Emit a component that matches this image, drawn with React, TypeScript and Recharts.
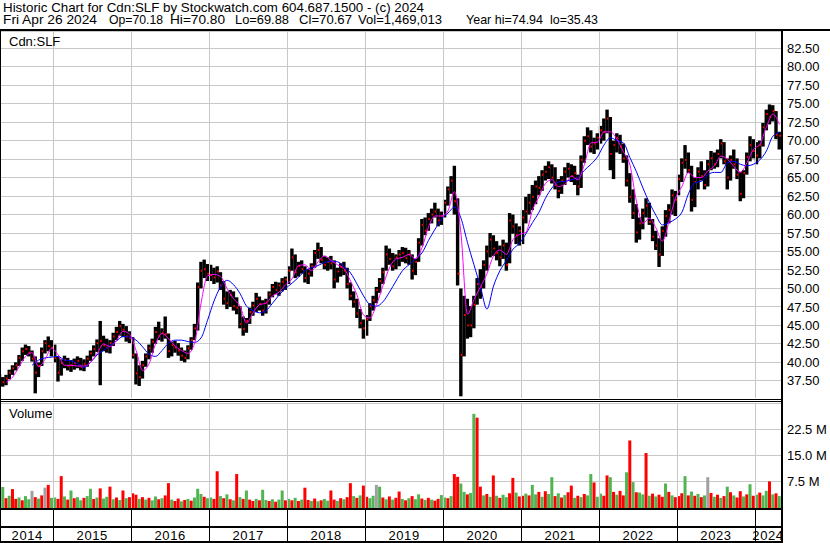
import React from 'react';
import { ComposedChart, Bar, Line, XAxis, YAxis, CartesianGrid, ReferenceLine, Cell } from 'recharts';

const FONT = '"Liberation Sans", Arial, sans-serif';
const GRID = '#c8c8c8';

// half-month slots: 2014 starts with the second half of April, 2024 ends with April
const YEARS = ['2014', '2015', '2016', '2017', '2018', '2019', '2020', '2021', '2022', '2023', '2024'];
const SLOTS_PER_YEAR = [17, 24, 24, 24, 24, 24, 24, 24, 24, 24, 8];

const HIGH = [
  38.4, 38.0, 38.3, 39.0, 39.6, 40.0, 41.0, 42.0, 42.4, 42.2, 41.6, 40.8, 40.0, 42.0, 43.0, 43.5, 43.0,
  42.4, 40.8, 40.4, 40.9, 40.6, 40.3, 40.5, 40.8, 40.6, 40.4, 40.9, 41.6, 42.3, 43.1, 45.6, 43.6, 43.2, 43.0, 44.0, 44.8, 45.6, 45.2, 44.9, 44.2,
  43.4, 41.2, 39.6, 40.2, 41.2, 42.4, 43.2, 44.8, 45.5, 44.6, 46.2, 43.9, 42.8, 42.9, 42.6, 42.0, 41.6, 42.3, 43.4, 45.2, 50.8, 53.6, 53.9, 53.3,
  53.2, 52.8, 53.0, 52.2, 51.0, 49.6, 49.8, 49.6, 48.8, 47.6, 46.2, 46.0, 47.4, 48.2, 49.4, 48.9, 48.4, 48.6, 49.6, 50.6, 50.9, 50.8, 51.4, 51.6,
  53.0, 55.4, 54.6, 53.6, 53.8, 53.0, 52.6, 53.4, 55.2, 56.2, 55.6, 54.4, 54.2, 54.4, 53.8, 52.8, 53.4, 53.6, 52.8, 50.8, 49.6, 48.6, 47.2, 45.8,
  46.4, 48.0, 49.0, 50.2, 51.4, 52.8, 55.8, 55.4, 54.8, 54.6, 55.2, 55.6, 55.5, 55.2, 54.6, 54.0, 56.8, 59.4, 59.6, 60.2, 60.8, 61.6, 60.8, 60.4,
  62.0, 63.8, 65.2, 66.6, 62.2, 50.0, 49.0, 48.6, 47.6, 49.0, 51.4, 52.6, 53.8, 55.8, 57.5, 57.2, 56.4, 55.8, 56.6, 56.2, 60.2, 60.0, 58.8, 58.4,
  60.6, 62.4, 62.8, 64.0, 64.6, 65.2, 66.0, 66.6, 67.2, 66.8, 66.4, 64.8, 65.2, 66.4, 67.0, 66.8, 66.6, 65.4, 68.0, 70.6, 71.8, 71.4, 70.4, 71.0,
  72.0, 73.0, 74.2, 73.2, 70.0, 71.0, 70.8, 69.6, 68.0, 65.6, 63.4, 61.4, 59.6, 60.8, 62.2, 61.6, 59.4, 57.8, 56.8, 58.4, 60.6, 61.4, 63.4, 63.2,
  65.4, 67.6, 69.4, 68.4, 66.6, 65.0, 66.4, 67.2, 66.0, 67.4, 68.6, 68.4, 68.8, 70.2, 69.8, 67.6, 68.0, 68.8, 67.6, 65.8, 66.0, 68.4, 70.6, 70.2,
  69.8, 70.0, 72.4, 74.2, 74.9, 74.8, 74.0, 71.2,
];

const LOW = [
  36.8, 36.7, 36.9, 37.7, 38.3, 38.9, 39.5, 40.2, 41.0, 40.8, 40.1, 35.8, 38.0, 39.5, 41.2, 41.5, 40.8,
  40.0, 37.4, 38.2, 39.2, 38.9, 38.7, 39.0, 39.2, 38.9, 38.8, 39.4, 40.2, 40.8, 41.4, 36.9, 41.5, 41.3, 41.2, 42.2, 43.0, 43.6, 43.4, 42.8, 42.6,
  40.5, 37.0, 36.8, 37.8, 39.4, 40.4, 41.3, 42.5, 43.0, 42.8, 43.2, 40.6, 40.8, 41.3, 40.9, 40.2, 40.0, 40.4, 41.7, 43.0, 44.3, 50.0, 51.4, 51.0,
  51.0, 50.6, 50.8, 49.8, 47.8, 47.2, 47.5, 47.0, 46.5, 44.6, 43.6, 44.0, 45.2, 46.3, 46.8, 47.0, 46.3, 46.6, 47.8, 48.8, 49.2, 49.0, 49.6, 49.8,
  50.6, 52.4, 51.4, 51.6, 52.0, 50.8, 50.6, 51.6, 52.8, 54.0, 53.4, 52.6, 52.4, 52.6, 50.0, 50.8, 51.6, 51.8, 50.0, 48.4, 47.4, 46.0, 44.6, 43.2,
  43.6, 45.6, 47.0, 48.0, 49.4, 50.6, 52.4, 53.2, 52.4, 52.6, 53.0, 53.6, 53.4, 53.2, 51.2, 51.8, 53.6, 55.8, 57.2, 57.8, 58.8, 59.6, 58.4, 58.6,
  59.6, 61.2, 62.8, 60.0, 50.4, 35.4, 40.8, 43.2, 43.4, 44.6, 47.8, 48.6, 50.0, 52.4, 54.2, 54.4, 53.8, 53.0, 54.0, 52.4, 53.4, 57.4, 56.0, 55.8,
  56.0, 58.8, 60.0, 60.6, 61.4, 62.6, 63.2, 64.6, 64.8, 64.2, 63.4, 62.2, 62.8, 64.0, 65.0, 64.4, 64.0, 62.6, 63.6, 67.0, 69.4, 68.4, 68.2, 68.8,
  69.6, 70.0, 71.0, 66.0, 64.8, 68.4, 68.2, 67.0, 63.8, 61.6, 59.4, 56.2, 56.6, 58.0, 59.6, 58.6, 56.4, 55.2, 52.9, 54.4, 57.0, 58.8, 60.0, 59.8,
  62.6, 64.4, 66.2, 65.6, 60.4, 61.0, 63.4, 64.6, 63.4, 63.8, 66.0, 66.2, 66.4, 67.6, 66.8, 63.4, 64.6, 66.2, 64.8, 61.8, 62.2, 65.4, 67.2, 67.6,
  66.8, 67.6, 69.2, 71.4, 72.2, 72.6, 70.2, 68.8,
];

const CLOSE = [
  37.5, 37.3, 37.8, 38.6, 39.2, 39.6, 40.6, 41.5, 41.8, 41.3, 40.5, 38.6, 39.5, 41.5, 42.6, 42.2, 42.0,
  40.6, 38.6, 39.9, 40.3, 39.5, 39.6, 39.9, 40.2, 39.4, 39.8, 40.5, 41.2, 41.8, 42.6, 42.9, 42.3, 42.0, 42.6, 43.5, 44.1, 44.9, 44.4, 43.5, 43.3,
  41.0, 38.5, 38.0, 39.6, 40.8, 41.9, 42.8, 44.1, 43.6, 44.0, 43.8, 41.5, 42.3, 42.0, 41.6, 40.9, 40.6, 41.9, 43.0, 44.6, 50.2, 52.4, 52.6, 52.0,
  51.8, 51.5, 52.3, 50.4, 48.6, 48.0, 49.1, 47.6, 47.4, 45.2, 44.5, 45.6, 46.8, 47.7, 48.6, 47.9, 47.0, 48.1, 49.2, 50.2, 49.8, 50.4, 50.9, 51.2,
  52.4, 54.2, 52.2, 53.0, 52.6, 51.4, 52.0, 53.0, 54.8, 55.2, 53.9, 53.2, 53.6, 53.4, 51.2, 52.3, 52.9, 52.4, 50.6, 49.0, 48.2, 46.6, 45.3, 44.6,
  45.8, 47.6, 48.4, 49.8, 51.0, 52.2, 54.6, 54.0, 53.0, 54.2, 54.6, 54.8, 54.1, 54.6, 52.4, 53.6, 56.2, 58.6, 57.8, 59.4, 60.0, 60.4, 59.2, 59.8,
  61.6, 63.4, 64.6, 61.8, 52.0, 41.0, 46.4, 45.0, 45.0, 47.8, 50.6, 50.2, 53.2, 55.0, 56.6, 55.4, 54.8, 54.2, 55.8, 53.2, 59.2, 58.4, 57.2, 57.8,
  59.6, 60.4, 61.6, 62.4, 63.8, 63.6, 65.4, 65.8, 66.4, 65.0, 64.0, 63.2, 64.6, 65.8, 66.2, 65.2, 65.6, 63.8, 67.4, 70.0, 70.6, 69.2, 69.6, 70.4,
  71.4, 71.2, 73.0, 68.2, 69.4, 70.4, 69.2, 67.6, 64.6, 62.4, 60.2, 57.6, 58.8, 60.2, 61.2, 59.0, 57.0, 55.8, 54.6, 57.8, 59.8, 60.6, 62.6, 62.0,
  64.8, 67.0, 67.4, 66.0, 62.0, 64.4, 65.8, 65.2, 64.0, 66.8, 67.6, 66.8, 68.2, 69.6, 67.2, 65.0, 67.4, 66.8, 65.4, 62.8, 65.6, 67.8, 69.4, 68.6,
  68.0, 69.4, 71.8, 73.6, 73.2, 74.0, 70.8, 70.67,
];

// volume in millions of shares
const VOLUME = [
  3.2, 6.0, 2.8, 3.5, 5.4, 2.6, 3.0, 2.2, 3.4, 2.5, 4.9, 3.1, 2.7, 3.6, 5.8, 6.6, 2.9,
  3.0, 2.6, 9.1, 3.3, 2.4, 5.0, 2.8, 3.1, 2.2, 2.9, 3.4, 5.5, 2.6, 3.0, 5.6, 2.7, 3.2, 6.1, 2.5, 3.0, 2.3, 5.0, 2.8, 3.1,
  4.2, 3.8, 2.6, 3.1, 2.4, 2.9, 2.2, 3.3, 2.5, 2.8, 3.6, 7.1, 2.4, 2.0, 2.7, 1.9, 2.3, 2.6, 2.1, 3.0, 5.5, 4.0, 3.2, 2.8,
  3.0, 2.6, 10.5, 3.4, 2.8, 3.9, 2.5, 2.2, 9.7, 3.1, 2.6, 5.0, 2.4, 2.0, 2.6, 2.2, 5.2, 2.3, 2.0, 2.5, 1.8, 2.4, 5.0, 2.2,
  2.6, 2.2, 2.9, 2.0, 2.4, 5.8, 2.3, 2.0, 2.7, 1.9, 2.2, 2.6, 2.1, 5.0, 2.4, 2.0, 2.8, 2.5, 3.1, 7.1, 3.4, 2.9, 3.6, 6.4,
  3.2, 2.8, 3.5, 6.6, 6.1, 3.0, 2.5, 3.3, 2.4, 2.9, 4.7, 2.6, 2.2, 2.8, 3.4, 2.5, 3.9, 2.7, 2.3, 2.9, 2.4, 2.1, 2.6, 3.7,
  3.0, 2.8, 3.4, 9.7, 8.9, 7.0, 4.6, 3.9, 4.3, 26.9, 25.8, 6.1, 3.6, 4.0, 3.2, 9.3, 3.5, 2.9, 3.8, 3.1, 4.2, 8.6, 4.4, 3.3,
  3.5, 4.1, 3.6, 6.6, 3.9, 4.6, 3.2, 4.8, 4.0, 8.8, 3.4, 4.2, 3.0, 3.7, 4.5, 6.4, 2.9, 3.5, 3.1, 4.0, 3.6, 9.7, 7.3, 3.2,
  4.1, 3.5, 9.3, 8.8, 4.6, 3.8, 4.9, 3.6, 10.2, 19.3, 7.4, 4.5, 4.4, 3.9, 15.7, 3.5, 4.1, 3.3, 3.8, 3.2, 7.0, 4.6, 3.6, 3.1,
  3.4, 4.2, 9.1, 3.6, 4.7, 3.5, 4.0, 3.1, 3.6, 8.8, 4.3, 3.2, 3.8, 2.9, 3.4, 6.1, 4.5, 3.6, 3.0, 4.8, 3.3, 3.9, 6.8, 3.5,
  3.8, 4.4, 3.6, 4.9, 7.6, 3.9, 4.2, 3.4,
];

// g = up, r = down, n = unchanged
const VOL_DIR =
  'ggrgrrgrggnrgrnrg' +
  'grrgrgrggrggrgrggrgrgrgr' +
  'rrgrgrggrgrrgrrgrgrgggrg' +
  'grrgrgrgrgrgrrgrggrgrggr' +
  'grgrgrrgrgrggrrgrgrrgrgr' +
  'rggngrgrgrrgrgrggrgrgrrg' +
  'grgrrggrggrrgrgrgrggrrgr' +
  'rgrggrgrggrgrgrrgrgrggrg' +
  'grrgrgrrgrgrggrgrgrrgrgr' +
  'rrgrgrgrgnrgrgrgrgrrgrgr' +
  'grggrgrg';

// monthly moving averages, Apr 2014 .. Apr 2024
const MA_FAST = [
  null, 37.3, 38.0, 39.4, 40.8, 41.3, 39.4, 40.4, 41.9,
  41.0, 39.6, 39.6, 39.5, 39.5, 40.0, 41.2, 42.5, 42.1, 43.0, 44.2, 43.8,
  41.6, 38.9, 39.8, 42.5, 43.9, 43.2, 42.2, 41.6, 41.2, 42.6, 48.0, 51.7,
  51.9, 51.6, 50.0, 48.6, 47.6, 45.3, 46.7, 47.8, 48.0, 49.0, 49.5, 50.5,
  51.3, 53.1, 53.2, 52.4, 53.6, 54.4, 53.8, 53.2, 52.7, 51.0, 49.1, 46.4,
  46.0, 47.8, 50.4, 52.8, 54.0, 54.2, 54.6, 54.0, 55.5, 58.3, 59.8, 59.8,
  60.5, 63.1, 57.4, 46.5, 48.5, 50.2, 52.0, 54.4, 55.2, 54.6, 56.6, 57.3,
  57.6, 60.6, 62.4, 64.2, 64.7, 63.8, 64.1, 65.2, 64.7, 66.8, 69.7, 69.8,
  71.2, 71.2, 70.2, 68.5, 66.7, 61.8, 58.8, 59.5, 58.2, 56.4, 59.0, 62.2,
  63.8, 65.7, 65.0, 65.0, 65.9, 66.6, 67.9, 67.5, 66.5, 65.7, 67.0, 68.8,
  69.5, 71.8, 73.6, 72.2,
];

const MA_SLOW = [
  null, null, null, null, null, 39.6, 40.3, 40.6, 40.7,
  40.8, 40.3, 40.2, 39.8, 39.3, 40.0, 41.0, 41.6, 42.3, 42.9, 43.5, 43.4,
  43.0, 42.1, 41.1, 40.8, 41.6, 42.6, 43.0, 43.0, 42.8, 42.7, 43.3, 45.7,
  48.3, 50.2, 51.1, 50.5, 49.3, 47.6, 47.0, 46.7, 47.0, 48.0, 49.1, 50.0,
  50.7, 51.5, 52.4, 52.8, 53.1, 53.5, 53.7, 53.6, 53.0, 52.1, 50.6, 49.0,
  47.8, 47.6, 48.2, 49.5, 51.0, 52.4, 53.2, 54.0, 54.8, 56.5, 58.0, 59.4,
  60.2, 61.0, 59.5, 56.2, 53.2, 50.2, 47.2, 50.3, 52.4, 53.8, 55.3, 56.1,
  57.4, 58.9, 60.3, 62.2, 63.6, 64.4, 64.5, 64.7, 65.0, 66.0, 66.8, 67.8,
  69.4, 70.4, 70.0, 69.7, 67.7, 65.8, 63.6, 61.6, 59.9, 58.6, 58.9, 59.4,
  60.3, 62.8, 64.3, 64.5, 65.4, 65.7, 65.7, 67.0, 67.2, 66.8, 66.6, 66.8,
  67.4, 68.6, 70.6, 71.1,
];

const PRICE_TICKS = [37.5, 40, 42.5, 45, 47.5, 50, 52.5, 55, 57.5, 60, 62.5, 65, 67.5, 70, 72.5, 75, 77.5, 80, 82.5];
const VOL_TICKS = [7.5, 15, 22.5];

const HEADER_1 = 'Historic Chart for Cdn:SLF by Stockwatch.com 604.687.1500 - (c) 2024';
const HEADER_2 = ['Fri Apr 26 2024', 'Op=70.18', 'Hi=70.80', 'Lo=69.88', 'Cl=70.67', 'Vol=1,469,013', 'Year hi=74.94', 'lo=35.43'];
const HEADER_2_X = [3, 109, 170, 235, 299, 358, 466, 550];
const HEADER_2_W = [94, 54, 55, 54, 53, 84, 77, 48];

// build slot rows
const rows: any[] = [];
const yearStartKeys: string[] = [];
const labelKeys: Record<string, string> = {};
let g = 0;
YEARS.forEach((yr, yi) => {
  const n = SLOTS_PER_YEAR[yi];
  for (let j = 0; j < n; j++, g++) {
    const key = `${yr}-${j}`;
    if (j === 0 && yi > 0) yearStartKeys.push(key);
    if (j === Math.ceil(n / 2)) labelKeys[key] = yr;
    rows.push({
      key,
      hi: HIGH[g],
      lo: LOW[g],
      cl: CLOSE[g],
      range: [LOW[g], HIGH[g]],
      vol: VOLUME[g],
      dir: VOL_DIR[g],
      fast: g % 2 === 0 ? MA_FAST[g / 2] : null,
      slow: g % 2 === 0 ? MA_SLOW[g / 2] : null,
    });
  }
});
const axisTicks = [...yearStartKeys, ...Object.keys(labelKeys)];

const volColor = (d: string) => (d === 'g' ? '#50b450' : d === 'r' ? '#ff0000' : '#a0a0a0');

function PriceBar(props: any) {
  const { x, y, width, height, payload } = props;
  if (!payload || !Number.isFinite(y)) return null;
  const h = Math.max(height, 1);
  const span = payload.hi - payload.lo;
  const yc = y + (span > 0 ? ((payload.hi - payload.cl) / span) * h : 0);
  return (
    <g>
      <rect x={x - 0.2} y={y} width={width + 0.4} height={h} fill="#000" />
      <rect x={x + width - 1.6} y={yc - 1} width={2} height={2} fill="#ff0000" />
    </g>
  );
}

function YearTick(props: any) {
  const { x, y, payload } = props;
  const left = x - (payload.offset || 0);
  if (yearStartKeys.includes(payload.value)) {
    const lx = Math.round(left) + 0.5;
    return <line x1={lx} x2={lx} y1={y + 2} y2={y + 35} stroke="#000" strokeWidth={1} />;
  }
  return (
    <text x={left} y={y + 32} textAnchor="middle" fontSize={13} fontFamily={FONT} fill="#000" letterSpacing={0.6}>
      {labelKeys[payload.value]}
    </text>
  );
}

const tickStyle = { fill: '#000', fontSize: 13, fontFamily: FONT };

export default function App() {
  return (
    <div style={{ position: 'absolute', left: 0, top: 0, width: 830, height: 543, background: '#fff', overflow: 'hidden' }}>
      <div style={{ position: 'absolute', left: -2, top: 31 }}>
        <ComposedChart width={833} height={367} data={rows} margin={{ top: 0, right: 0, bottom: 0, left: 0 }} barCategoryGap={0} barGap={0}>
          <CartesianGrid vertical={false} stroke={GRID} shapeRendering="crispEdges" />
          <XAxis dataKey="key" hide />
          <YAxis
            orientation="right"
            width={50}
            domain={[35.17, 84.84]}
            ticks={PRICE_TICKS}
            tickFormatter={(v: number) => v.toFixed(2)}
            axisLine={false}
            tickLine={false}
            tickSize={0}
            tickMargin={6}
            tick={tickStyle}
            interval={0}
          />
          {yearStartKeys.map((k) => (
            <ReferenceLine key={k} x={k} position="start" stroke={GRID} shapeRendering="crispEdges" />
          ))}
          <Bar dataKey="range" isAnimationActive={false} shape={(p: any) => <PriceBar {...p} />} />
          <Line dataKey="slow" type="monotone" stroke="#0000ff" strokeWidth={1} dot={false} activeDot={false} connectNulls isAnimationActive={false} />
          <Line dataKey="fast" type="monotone" stroke="#ff00ff" strokeWidth={1} dot={false} activeDot={false} connectNulls isAnimationActive={false} />
        </ComposedChart>
      </div>

      <div style={{ position: 'absolute', left: -2, top: 403 }}>
        <ComposedChart width={833} height={140} data={rows} margin={{ top: 0, right: 0, bottom: 0, left: 0 }} barCategoryGap={0} barGap={0}>
          <CartesianGrid vertical={false} stroke={GRID} shapeRendering="crispEdges" />
          <XAxis
            dataKey="key"
            height={35}
            ticks={axisTicks}
            interval={0}
            axisLine={false}
            tickLine={false}
            tickSize={0}
            tickMargin={0}
            tick={(p: any) => <YearTick {...p} />}
          />
          <YAxis
            orientation="right"
            width={50}
            domain={[0, 30]}
            ticks={VOL_TICKS}
            tickFormatter={(v: number) => `${v.toFixed(1)} M`}
            axisLine={false}
            tickLine={false}
            tickSize={0}
            tickMargin={6}
            tick={tickStyle}
            interval={0}
          />
          {yearStartKeys.map((k) => (
            <ReferenceLine key={k} x={k} position="start" stroke={GRID} shapeRendering="crispEdges" />
          ))}
          <Bar dataKey="vol" isAnimationActive={false}>
            {rows.map((r, i) => (
              <Cell key={i} fill={volColor(r.dir)} />
            ))}
          </Bar>
        </ComposedChart>
      </div>

      <svg width={830} height={543} style={{ position: 'absolute', left: 0, top: 0, pointerEvents: 'none' }}>
        <g fontFamily={FONT} fontSize={13} fill="#000" style={{ whiteSpace: 'pre' }}>
          <text x={3} y={11.5} textLength={421} lengthAdjust="spacingAndGlyphs">{HEADER_1}</text>
          {HEADER_2.map((t, i) => (
            <text key={i} x={HEADER_2_X[i]} y={23.5} textLength={HEADER_2_W[i]} lengthAdjust="spacingAndGlyphs">{t}</text>
          ))}
          <text x={9} y={46}>Cdn:SLF</text>
          <text x={9} y={418}>Volume</text>
        </g>
        <g fill="#000" shapeRendering="crispEdges">
          <rect x={0} y={29} width={830} height={2} />
          <rect x={0} y={29} width={1} height={514} />
          <rect x={781} y={29} width={2} height={514} />
          <rect x={0} y={399} width={783} height={1} />
          <rect x={0} y={401} width={783} height={1} />
          <rect x={0} y={508} width={783} height={2} />
          <rect x={0} y={526} width={783} height={2} />
          <rect x={0} y={541} width={783} height={2} />
        </g>
      </svg>
    </div>
  );
}
